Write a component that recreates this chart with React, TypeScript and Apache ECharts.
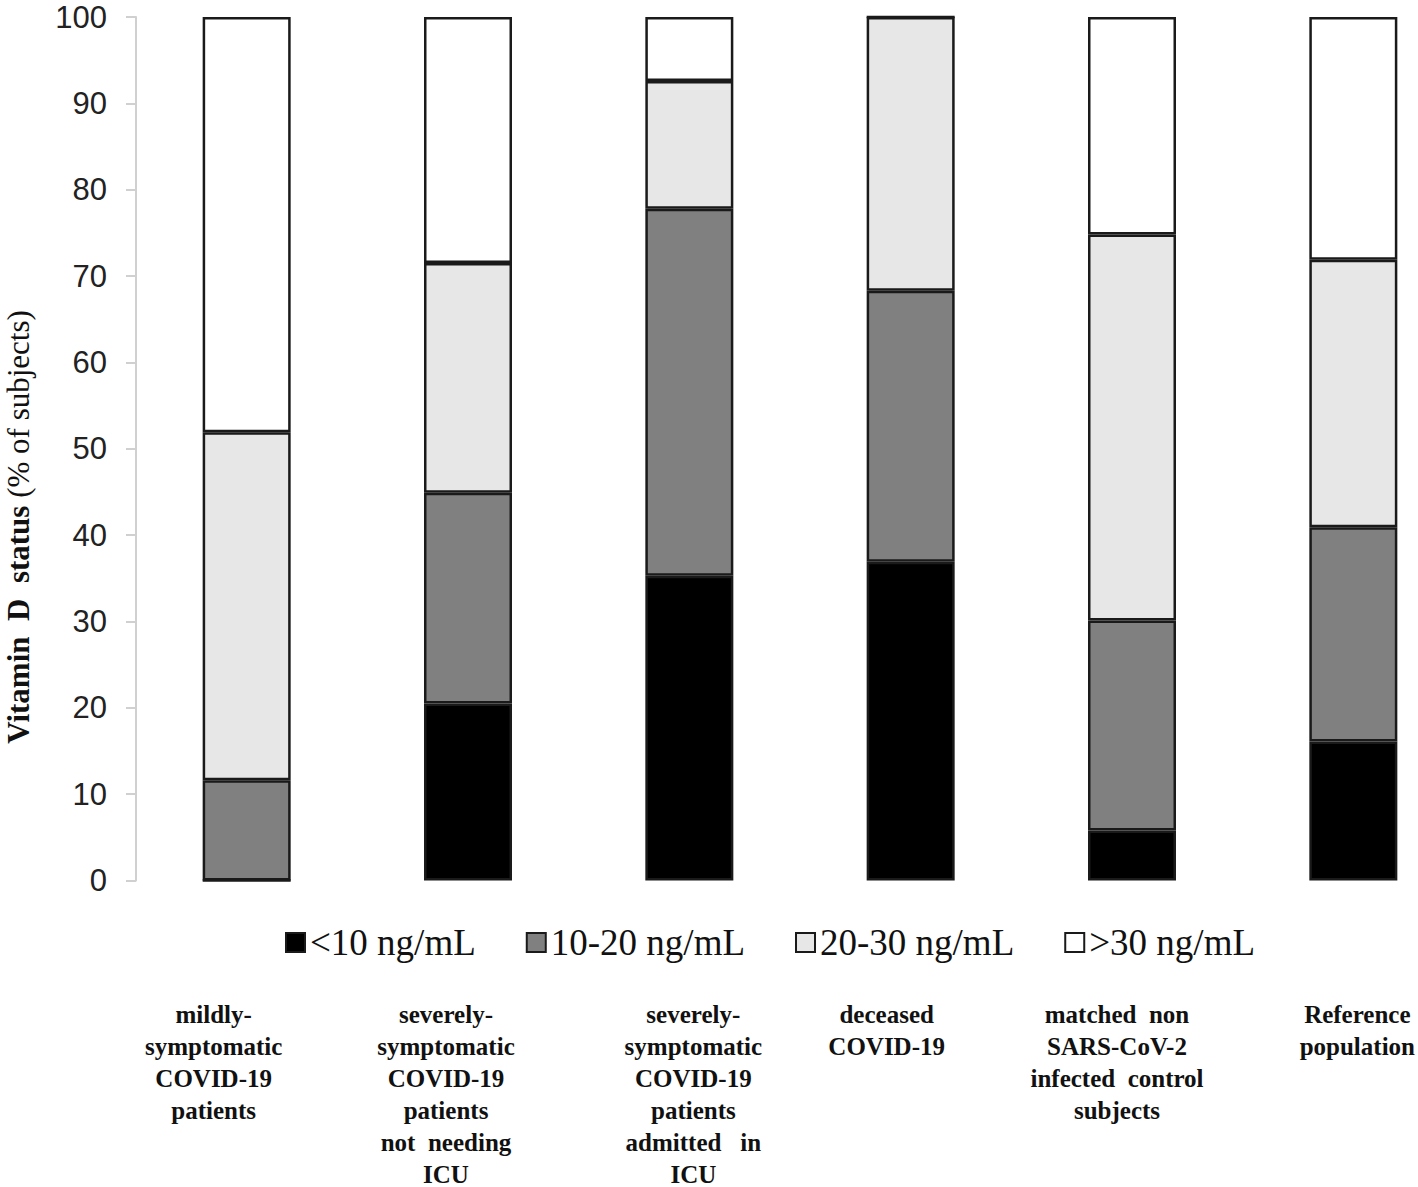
import React, { useEffect, useRef } from "react";
import * as echarts from "echarts";

const categories = [
  "mildly-\nsymptomatic\nCOVID-19\npatients",
  "severely-\nsymptomatic\nCOVID-19\npatients\nnot  needing\nICU",
  "severely-\nsymptomatic\nCOVID-19\npatients\nadmitted   in\nICU",
  "deceased\nCOVID-19",
  "matched  non\nSARS-CoV-2\ninfected  control\nsubjects",
  "Reference\npopulation",
];

const seriesNames = ["<10 ng/mL", "10-20 ng/mL", "20-30 ng/mL", ">30 ng/mL"];
const below10 = [0, 20.5, 35.3, 36.9, 5.8, 16.1];
const from10to20 = [11.6, 24.4, 42.5, 31.4, 24.3, 24.8];
const from20to30 = [40.3, 26.6, 14.8, 31.7, 44.7, 31.0];
const above30 = [48.1, 28.5, 7.4, 0, 25.2, 28.1];

const yTicks = [0, 10, 20, 30, 40, 50, 60, 70, 80, 90, 100];

const labelOffsets = [-33, -22, 4, -24, -15, 4];

const fills = ["#000000", "#808080", "#e7e7e7", "#ffffff"];

export default function App() {
  const ref = useRef<HTMLDivElement>(null);

  useEffect(() => {
    document.body.style.margin = "0";
    if (!ref.current) return;
    const chart = echarts.init(ref.current, undefined, { renderer: "svg" });
    const allData = [below10, from10to20, from20to30, above30];

    const rich: Record<string, any> = {};
    labelOffsets.forEach((off, i) => {
      rich["o" + i] = {
        fontFamily: "Liberation Serif",
        fontWeight: "bold",
        fontSize: 25,
        lineHeight: 32,
        color: "#111",
        padding: off < 0 ? [0, -2 * off, 0, 0] : [0, 0, 0, 2 * off],
      };
    });

    chart.setOption({
      animation: false,
      backgroundColor: "#ffffff",
      grid: { left: 136, right: 0, top: 17, bottom: 306, containLabel: false },
      legend: {
        left: 280,
        top: 919,
        icon: "rect",
        itemWidth: 19,
        itemHeight: 19,
        itemGap: 50,
        textStyle: { fontFamily: "Liberation Serif", fontSize: 37, color: "#111" },
        data: seriesNames,
      },
      xAxis: {
        type: "category",
        data: categories,
        axisLine: { show: false },
        axisTick: { show: false },
        axisLabel: {
          interval: 0,
          margin: 118,
          formatter: (value: string, index: number) =>
            value
              .split("\n")
              .map((l) => `{o${index}|${l}}`)
              .join("\n"),
          rich,
        },
      },
      yAxis: {
        type: "value",
        min: 0,
        max: 100,
        interval: 10,
        splitLine: { show: false },
        axisLine: { show: true, lineStyle: { color: "#d0d0d0", width: 2 } },
        axisTick: { show: true, length: 10, lineStyle: { color: "#d0d0d0", width: 2 } },
        axisLabel: {
          margin: 29,
          fontFamily: "Liberation Sans",
          fontSize: 31,
          color: "#222",
          formatter: (v: number) => (yTicks.includes(v) ? String(v) : ""),
        },
      },
      graphic: [
        {
          type: "text",
          x: 18,
          y: 527,
          rotation: Math.PI / 2,
          style: {
            text: "{b|Vitamin  D  status }{r|(% of subjects)}",
            align: "center",
            verticalAlign: "middle",
            rich: {
              b: { fontFamily: "Liberation Serif", fontWeight: "bold", fontSize: 31, fill: "#111" },
              r: { fontFamily: "Liberation Serif", fontSize: 31, fill: "#111" },
            },
          },
        },
      ],
      series: seriesNames.map((name, i) => ({
        name,
        type: "bar",
        stack: "total",
        barWidth: 88,
        data: allData[i],
        itemStyle: { color: fills[i], borderColor: "#1a1a1a", borderWidth: 2.5 },
      })),
    });

    return () => chart.dispose();
  }, []);

  return (
    <div style={{ width: 1418, height: 1187, overflow: "hidden", position: "relative" }}>
      <div ref={ref} style={{ width: 1464, height: 1187 }} />
    </div>
  );
}
